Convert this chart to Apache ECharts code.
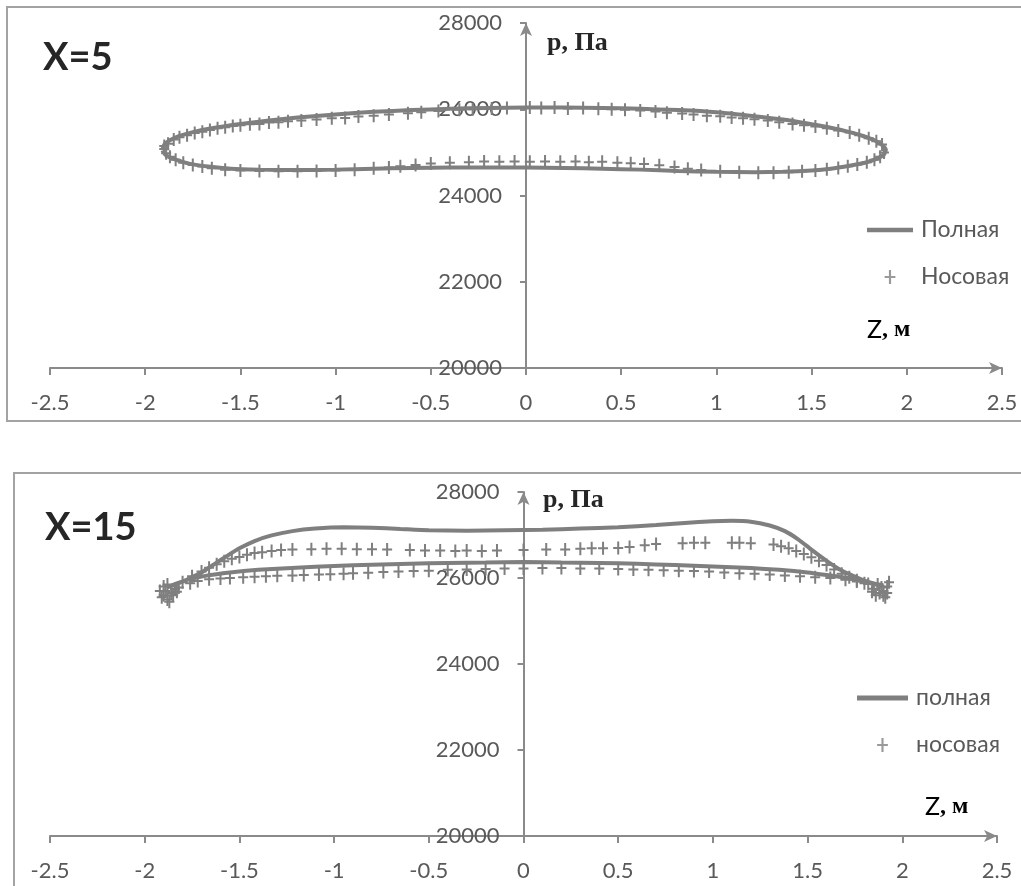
<!DOCTYPE html>
<html>
<head>
<meta charset="utf-8">
<script src="https://cdn.jsdelivr.net/npm/echarts@6/dist/echarts.min.js"></script>
<style>
html,body{margin:0;padding:0;background:#fff;}
#chart{width:1021px;height:886px;}
</style>
</head>
<body>
<div id="chart"></div>
<script>
// ---------- DATA ----------
const xTicks = [-2.5, 2.5, 0.5];          // min, max, step of Z axis
const yTicks = [20000, 28000, 2000];      // min, max, step of p axis
const panelTitles = ['X=5', 'X=15'];
const legendNames5 = ['Полная', 'Носовая'];
const legendNames15 = ['полная', 'носовая'];

// X=5 : full pressure (closed loop)
const full5 = [
  [-1.91,25050],[-1.90,25180],[-1.87,25280],[-1.82,25380],[-1.75,25470],[-1.65,25560],[-1.5,25660],
  [-1.35,25740],[-1.2,25810],[-1.0,25880],[-0.8,25940],[-0.6,25980],[-0.4,26010],[-0.2,26030],[0,26040],
  [0.2,26040],[0.4,26030],[0.6,26010],[0.8,25980],[1.0,25930],[1.2,25840],[1.35,25760],[1.5,25650],
  [1.6,25570],[1.7,25470],[1.77,25380],[1.83,25280],[1.87,25170],[1.89,25060],[1.88,24950],[1.84,24850],
  [1.78,24760],[1.7,24690],[1.6,24620],[1.5,24580],[1.35,24550],[1.2,24540],[1.0,24550],[0.8,24570],
  [0.6,24600],[0.4,24620],[0.2,24640],[0,24650],[-0.2,24650],[-0.4,24650],[-0.6,24640],[-0.8,24620],
  [-1.0,24600],[-1.2,24590],[-1.4,24600],[-1.55,24620],[-1.67,24670],[-1.77,24740],[-1.84,24830],
  [-1.89,24930],[-1.91,25050]
];
// X=5 : nose pressure, upper branch
const nose5Upper = [
  [-1.88,25200],[-1.85,25300],[-1.82,25350],[-1.78,25400],[-1.74,25450],[-1.7,25480],[-1.66,25520],
  [-1.62,25560],[-1.58,25580],[-1.54,25610],[-1.5,25630],[-1.45,25650],[-1.4,25660],[-1.35,25690],
  [-1.3,25700],[-1.25,25720],[-1.18,25740],[-1.1,25760],[-1.02,25790],[-0.95,25800],[-0.88,25830],
  [-0.8,25850],[-0.72,25880],[-0.62,25910],[-0.55,25930],[-0.46,25960],[-0.35,25990],[-0.28,26000],
  [-0.18,26020],[-0.1,26030],[0.02,26040],[0.08,26030],[0.15,26040],[0.22,26020],[0.3,26030],
  [0.38,26010],[0.45,26000],[0.52,25990],[0.6,25970],[0.68,25950],[0.74,25920],[0.82,25900],
  [0.88,25880],[0.95,25850],[1.02,25840],[1.08,25810],[1.14,25790],[1.2,25770],[1.27,25740],
  [1.33,25700],[1.4,25660],[1.46,25630],[1.52,25600],[1.58,25560],[1.64,25510],[1.7,25460],
  [1.75,25400],[1.8,25330],[1.84,25260],[1.87,25180]
];
// X=5 : nose pressure, lower branch
const nose5Lower = [
  [1.88,25000],[1.86,24900],[1.83,24830],[1.79,24770],[1.74,24720],[1.69,24680],[1.64,24640],
  [1.58,24610],[1.52,24580],[1.45,24560],[1.38,24540],[1.3,24530],[1.22,24530],[1.12,24540],
  [1.02,24560],[0.92,24590],[0.85,24620],[0.78,24660],[0.7,24700],[0.62,24730],[0.55,24750],
  [0.48,24760],[0.4,24780],[0.33,24770],[0.26,24790],[0.18,24780],[0.1,24790],[0.02,24780],
  [-0.06,24790],[-0.14,24780],[-0.22,24790],[-0.3,24770],[-0.4,24760],[-0.5,24740],[-0.58,24710],
  [-0.66,24680],[-0.72,24650],[-0.8,24630],[-0.9,24600],[-1.0,24580],[-1.1,24570],[-1.2,24560],
  [-1.3,24560],[-1.4,24570],[-1.5,24580],[-1.58,24600],[-1.65,24630],[-1.7,24670],[-1.75,24710],
  [-1.8,24760],[-1.84,24830],[-1.87,24900],[-1.89,24980],[-1.9,25080],[-1.9,25150]
];

// X=15 : full pressure (closed loop)
const full15 = [
  [-1.88,25780],[-1.82,25880],[-1.76,26000],[-1.7,26130],[-1.64,26300],[-1.57,26500],[-1.5,26690],
  [-1.42,26860],[-1.33,26990],[-1.22,27090],[-1.1,27150],[-0.95,27180],[-0.8,27170],[-0.65,27140],
  [-0.5,27110],[-0.3,27100],[-0.1,27110],[0.1,27120],[0.3,27150],[0.5,27180],[0.7,27230],[0.85,27280],
  [1.0,27320],[1.1,27330],[1.2,27310],[1.3,27220],[1.38,27090],[1.45,26900],[1.52,26660],[1.6,26400],
  [1.67,26200],[1.74,26050],[1.8,25940],[1.86,25860],[1.9,25830],[1.86,25850],[1.8,25920],[1.72,25990],
  [1.6,26070],[1.5,26130],[1.35,26190],[1.2,26230],[1.0,26270],[0.8,26300],[0.6,26330],[0.4,26350],
  [0.2,26360],[0,26370],[-0.2,26360],[-0.4,26350],[-0.6,26330],[-0.8,26310],[-1.0,26280],[-1.2,26240],
  [-1.4,26190],[-1.55,26130],[-1.68,26050],[-1.78,25950],[-1.85,25840],[-1.88,25780]
];
// X=15 : nose pressure, upper branch
const nose15Upper = [
  [-1.8,25900],[-1.75,26040],[-1.7,26150],[-1.66,26240],[-1.62,26320],[-1.58,26390],[-1.54,26450],
  [-1.5,26490],[-1.46,26540],[-1.42,26580],[-1.38,26600],[-1.33,26630],[-1.28,26650],[-1.22,26660],
  [-1.12,26670],[-1.04,26680],[-0.96,26680],[-0.88,26670],[-0.8,26670],[-0.72,26660],[-0.6,26650],
  [-0.52,26640],[-0.44,26640],[-0.36,26630],[-0.3,26640],[-0.22,26630],[-0.14,26640],[0.0,26650],
  [0.12,26660],[0.22,26660],[0.3,26680],[0.36,26690],[0.42,26690],[0.5,26700],[0.56,26720],
  [0.64,26760],[0.7,26790],[0.84,26810],[0.9,26820],[0.96,26820],[1.1,26820],[1.14,26820],
  [1.2,26810],[1.32,26780],[1.36,26740],[1.4,26690],[1.44,26630],[1.48,26560],[1.52,26480],
  [1.56,26400],[1.6,26300],[1.64,26200],[1.68,26100],[1.72,26020],[1.76,25950],[1.8,25880]
];
// X=15 : nose pressure, lower branch
const nose15Lower = [
  [-1.82,25780],[-1.76,25880],[-1.72,25930],[-1.66,25970],[-1.6,25990],[-1.55,26000],[-1.48,26020],
  [-1.42,26030],[-1.36,26040],[-1.3,26050],[-1.22,26060],[-1.16,26070],[-1.08,26080],[-1.02,26090],
  [-0.95,26100],[-0.9,26110],[-0.82,26120],[-0.74,26140],[-0.66,26150],[-0.58,26160],[-0.5,26170],
  [-0.4,26190],[-0.3,26200],[-0.2,26210],[-0.1,26220],[0.0,26220],[0.1,26230],[0.2,26230],
  [0.3,26220],[0.4,26220],[0.5,26210],[0.58,26200],[0.66,26190],[0.74,26180],[0.82,26170],
  [0.9,26160],[0.98,26150],[1.06,26130],[1.14,26110],[1.22,26100],[1.3,26080],[1.38,26060],
  [1.46,26040],[1.54,26020],[1.62,26000],[1.7,25960],[1.76,25920],[1.82,25860]
];
// X=15 : nose pressure clusters at the edges
const nose15Ends = [
  [-1.92,25700],[-1.9,25600],[-1.88,25500],[-1.86,25650],[-1.9,25800],[-1.84,25750],[-1.87,25450],
  [-1.91,25550],[-1.85,25600],[-1.89,25700],[-1.83,25680],[-1.88,25850],
  [1.9,25700],[1.92,25800],[1.88,25650],[1.85,25750],[1.9,25600],[1.93,25900],[1.87,25850],
  [1.91,25550],[1.84,25680],[1.89,25780],[1.86,25600],[1.92,25650]
];

// ---------- CHART ----------
const GREY = '#7f7f7f';
const AXIS = '#8a8a8a';
const LABEL = '#595959';
const FONT = 'Lato';
const PLUS = 'path://M4,0h2v5.5h4v2h-4v5.5h-2v-5.5h-4v-2h4z';
const BAR = 'path://M0,0h40v4h-40z';
const gridBoxes = [
  { left: 50, top: 23, width: 952, height: 345 },
  { left: 50, top: 492, width: 947, height: 344 }
];

function xAxisOpt(gi) {
  return {
    gridIndex: gi, type: 'value', min: xTicks[0], max: xTicks[1], interval: xTicks[2],
    axisLine: { show: true, onZero: false, lineStyle: { color: AXIS, width: 2 }, symbol: ['none', 'arrow'], symbolSize: [9, 13] },
    axisTick: { show: true, length: 7, lineStyle: { color: AXIS, width: 2 } },
    axisLabel: { color: LABEL, fontSize: 22, fontFamily: FONT, margin: 24, formatter: v => String(v) },
    splitLine: { show: false }
  };
}
function yAxisOpt(gi) {
  // place the vertical axis at Z = 0 (middle of the plot)
  return {
    gridIndex: gi, type: 'value', min: yTicks[0], max: yTicks[1], interval: yTicks[2],
    offset: -gridBoxes[gi].width / 2,
    axisLine: { show: true, onZero: false, lineStyle: { color: AXIS, width: 2 }, symbol: ['none', 'arrow'], symbolSize: [9, 13] },
    axisTick: { show: true, length: 6, lineStyle: { color: AXIS, width: 2 } },
    axisLabel: { color: LABEL, fontSize: 22, fontFamily: FONT, margin: 24, formatter: v => String(v) },
    splitLine: { show: false }
  };
}
function legendOpt(names, left, top, iw) {
  return {
    data: [
      { name: names[0], icon: BAR, itemStyle: { color: GREY } },
      { name: names[1], itemStyle: { color: '#9a9a9a' } }
    ],
    orient: 'vertical', left: left, top: top, padding: 0,
    itemWidth: iw, itemHeight: 14, itemGap: 23,
    textStyle: { fontSize: 23, color: LABEL, fontFamily: FONT, lineHeight: 24, padding: [0, 0, 0, 3] }
  };
}

const chart = echarts.init(document.getElementById('chart'), null, { renderer: 'canvas' });
const option = {
  backgroundColor: '#ffffff',
  animation: false,
  grid: gridBoxes.map(g => Object.assign({ outerBoundsMode: 'none', containLabel: false }, g)),
  xAxis: [xAxisOpt(0), xAxisOpt(1)],
  yAxis: [yAxisOpt(0), yAxisOpt(1)],
  legend: [
    legendOpt(legendNames5, 867, 218, 46),
    legendOpt(legendNames15, 857, 686, 51)
  ],
  graphic: [
    { type: 'rect', shape: { x: 7, y: 7, width: 1040, height: 414 }, style: { fill: 'none', stroke: '#a3a3a3', lineWidth: 2 }, silent: true },
    { type: 'rect', shape: { x: 14, y: 473, width: 1040, height: 440 }, style: { fill: 'none', stroke: '#a3a3a3', lineWidth: 2 }, silent: true },
    { type: 'text', x: 43, y: 58, style: { text: panelTitles[0], font: 'bold 38px Lato', fill: '#262626', verticalAlign: 'middle' } },
    { type: 'text', x: 45, y: 528, style: { text: panelTitles[1], font: 'bold 38px Lato', fill: '#262626', verticalAlign: 'middle' } },
    { type: 'text', x: 547, y: 43, style: { text: 'p, Па', font: 'bold 26px "Liberation Serif"', fill: '#262626', verticalAlign: 'middle' } },
    { type: 'text', x: 543, y: 500, style: { text: 'p, Па', font: 'bold 26px "Liberation Serif"', fill: '#262626', verticalAlign: 'middle' } },
    { type: 'text', x: 867, y: 330, style: { text: '{a|Z}{b|, м}', verticalAlign: 'middle', rich: { a: { fontFamily: FONT, fontSize: 25, color: '#262626' }, b: { fontFamily: 'Liberation Serif', fontWeight: 'bold', fontSize: 24, color: '#262626' } } } },
    { type: 'text', x: 925, y: 807, style: { text: '{a|Z}{b|, м}', verticalAlign: 'middle', rich: { a: { fontFamily: FONT, fontSize: 25, color: '#262626' }, b: { fontFamily: 'Liberation Serif', fontWeight: 'bold', fontSize: 24, color: '#262626' } } } }
  ],
  series: [
    {
      name: legendNames5[0], type: 'line', xAxisIndex: 0, yAxisIndex: 0, data: full5,
      symbol: 'none', smooth: 0.2, lineStyle: { color: GREY, width: 4 }, itemStyle: { color: GREY }, z: 2
    },
    {
      name: legendNames5[1], type: 'scatter', xAxisIndex: 0, yAxisIndex: 0, data: nose5Upper.concat(nose5Lower),
      symbol: PLUS, symbolSize: [10, 13], itemStyle: { color: GREY, opacity: 1 }, z: 3
    },
    {
      name: legendNames15[0], type: 'line', xAxisIndex: 1, yAxisIndex: 1, data: full15,
      symbol: 'none', smooth: 0.2, lineStyle: { color: GREY, width: 4 }, itemStyle: { color: GREY }, z: 2
    },
    {
      name: legendNames15[1], type: 'scatter', xAxisIndex: 1, yAxisIndex: 1, data: nose15Upper.concat(nose15Lower, nose15Ends),
      symbol: PLUS, symbolSize: [10, 13], itemStyle: { color: GREY, opacity: 1 }, z: 3
    }
  ]
};
chart.setOption(option);
</script>
</body>
</html>
